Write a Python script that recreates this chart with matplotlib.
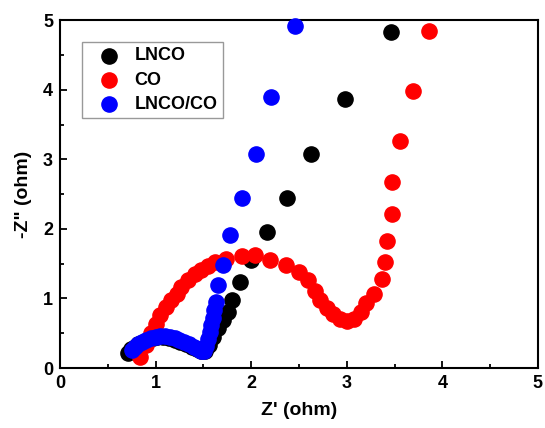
import matplotlib
matplotlib.use("Agg")
import matplotlib.pyplot as plt
from matplotlib.ticker import MultipleLocator

plt.rcParams['font.family'] = ['Liberation Sans', 'DejaVu Sans']
plt.rcParams['font.weight'] = 'bold'

lnco_x = [0.71, 0.74, 0.78, 0.82, 0.87, 0.92, 0.97, 1.02, 1.08, 1.14, 1.20, 1.26, 1.32, 1.38, 1.43,
          1.48, 1.52, 1.56, 1.60, 1.65, 1.71, 1.76, 1.80, 1.88, 2.00, 2.17, 2.38, 2.63, 2.98, 3.46]
lnco_y = [0.22, 0.27, 0.31, 0.35, 0.38, 0.41, 0.43, 0.44, 0.44, 0.43, 0.41, 0.38, 0.35, 0.31, 0.27,
          0.24, 0.25, 0.33, 0.45, 0.57, 0.69, 0.80, 0.98, 1.24, 1.55, 1.95, 2.44, 3.07, 3.86, 4.83]

co_x = [0.84, 0.90, 0.95, 1.00, 1.05, 1.11, 1.16, 1.22, 1.27, 1.34, 1.41, 1.48, 1.55, 1.62, 1.74,
        1.90, 2.04, 2.20, 2.36, 2.50, 2.60, 2.67, 2.72, 2.79, 2.86, 2.93, 3.00, 3.08, 3.15, 3.20,
        3.29, 3.37, 3.40, 3.42, 3.47, 3.47, 3.56, 3.69, 3.86]
co_y = [0.16, 0.33, 0.50, 0.64, 0.76, 0.88, 0.98, 1.07, 1.17, 1.27, 1.35, 1.41, 1.47, 1.52, 1.57,
        1.61, 1.63, 1.56, 1.48, 1.38, 1.26, 1.11, 0.98, 0.86, 0.78, 0.71, 0.67, 0.71, 0.81, 0.93,
        1.07, 1.28, 1.52, 1.82, 2.21, 2.68, 3.26, 3.98, 4.84]

lc_x = [0.75, 0.78, 0.82, 0.86, 0.90, 0.95, 1.00, 1.05, 1.10, 1.15, 1.20, 1.25, 1.30, 1.35, 1.40,
        1.44, 1.48, 1.51, 1.53, 1.55, 1.57, 1.58, 1.60, 1.61, 1.63, 1.65, 1.71, 1.78, 1.90, 2.05,
        2.21, 2.46]
lc_y = [0.26, 0.30, 0.34, 0.38, 0.41, 0.43, 0.45, 0.46, 0.46, 0.45, 0.43, 0.41, 0.38, 0.35, 0.31,
        0.27, 0.24, 0.25, 0.32, 0.42, 0.52, 0.62, 0.72, 0.83, 0.95, 1.19, 1.48, 1.91, 2.45, 3.08,
        3.90, 4.91]

fig = plt.figure(figsize=(5.45, 4.28), dpi=100)
ax = fig.add_axes([0.110, 0.140, 0.877, 0.813])

ms = 120
ax.scatter(lnco_x, lnco_y, s=ms, color='black', label='LNCO', zorder=3, clip_on=False)
ax.scatter(co_x, co_y, s=ms, color='#ff0000', label='CO', zorder=4, clip_on=False)
ax.scatter(lc_x, lc_y, s=ms, color='#0000ff', label='LNCO/CO', zorder=5, clip_on=False)

ax.set_xlim(0, 5)
ax.set_ylim(0, 5)
ax.xaxis.set_major_locator(MultipleLocator(1))
ax.xaxis.set_minor_locator(MultipleLocator(0.5))
ax.yaxis.set_major_locator(MultipleLocator(1))
ax.yaxis.set_minor_locator(MultipleLocator(0.5))
ax.tick_params(which='both', direction='in', labelsize=13, width=1.3)
ax.tick_params(which='major', length=5, pad=5)
ax.tick_params(which='minor', length=3)
for sp in ax.spines.values():
    sp.set_linewidth(1.5)
for lab in ax.get_xticklabels() + ax.get_yticklabels():
    lab.set_fontweight('bold')

ax.set_xlabel("Z' (ohm)", fontsize=14, fontweight='bold', labelpad=7)
ax.set_ylabel('-Z" (ohm)', fontsize=14, fontweight='bold', labelpad=8)

leg = ax.legend(loc='upper left', bbox_to_anchor=(0.046, 0.937), borderaxespad=0,
                fancybox=False, frameon=True, edgecolor='#808080',
                prop={'weight': 'bold', 'size': 13},
                handletextpad=0.2, borderpad=0.3, labelspacing=0.4, handlelength=2.4,
                markerscale=1.0, scatterpoints=1)
leg.get_frame().set_linewidth(1.0)

fig.savefig('out.png', dpi=100)
